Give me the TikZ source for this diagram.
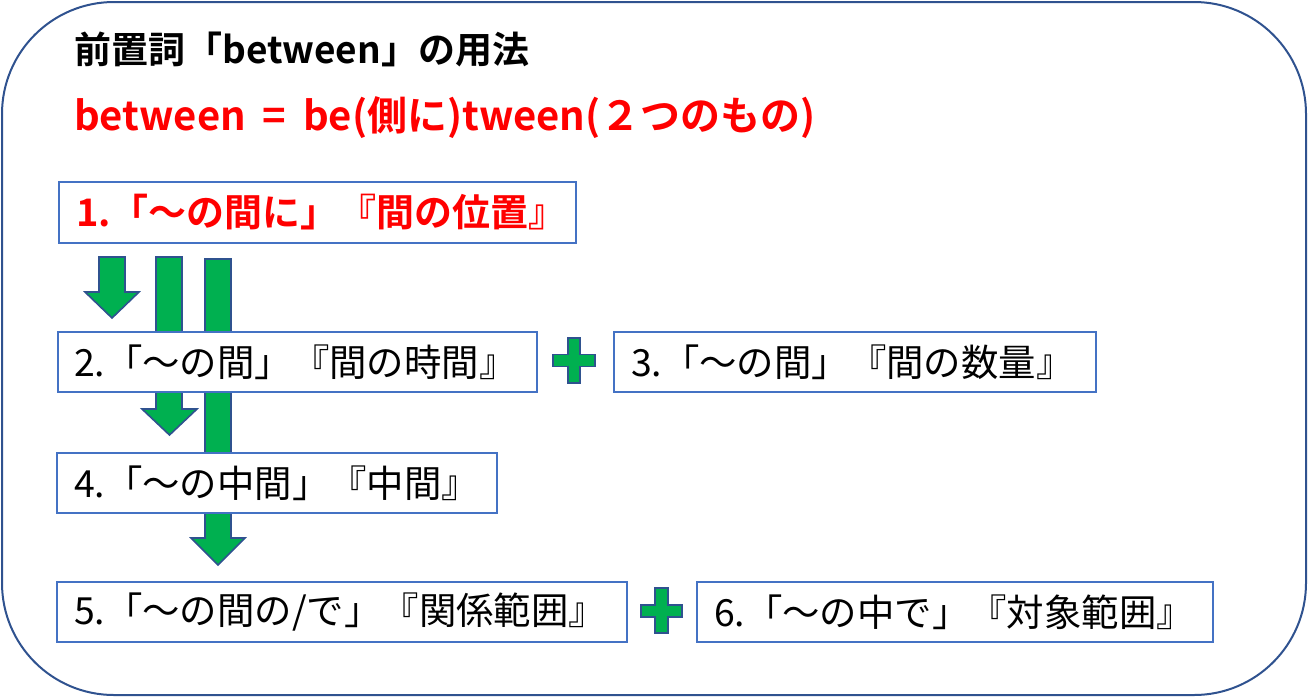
\documentclass[tikz,border=0pt]{standalone}
\usepackage{fontspec}
\setmainfont{Noto Sans CJK JP}[BoldFont={Noto Sans CJK JP Bold}]
\definecolor{boxblue}{HTML}{4472C4}
\definecolor{darkblue}{HTML}{2F528F}
\definecolor{arrgreen}{HTML}{00B050}
\definecolor{redtxt}{HTML}{FF0000}
\tikzset{
  box/.style={draw=boxblue, line width=2pt, fill=white, anchor=north west,
    inner ysep=0pt, align=left, font=\fontsize{37.4}{44}\selectfont},
  blk/.style={fill=arrgreen, draw=darkblue, line width=1.6pt, line join=miter},
}
\begin{document}
\begin{tikzpicture}[x=1pt,y=-1pt]
\useasboundingbox (0,0) rectangle (1308,697);
\node[draw=darkblue, line width=2pt, rounded corners=112pt, minimum width=1304pt,
  minimum height=693pt, inner sep=0pt] (frame) at (654,348.5) {};
\node[anchor=west, inner sep=0pt, font=\bfseries\fontsize{37}{42}\selectfont] (title)
  at (74,49) {前置詞「between」の用法};
\node[anchor=west, inner sep=0pt, text=redtxt, font=\bfseries\fontsize{40}{44}\selectfont] (ety)
  at (74,118) {between\hspace{0.42em}=\hspace{0.42em}be(側に)tween(２つのもの)};
% block arrows
\draw[blk] (99,257) -- (125,257) -- (125,292) -- (139,292) -- (112,318) -- (85,292) -- (99,292) -- cycle;
\draw[blk] (156,257) -- (182,257) -- (182,409) -- (197,409) -- (169.5,435) -- (142,409) -- (156,409) -- cycle;
\draw[blk] (205,259) -- (231,259) -- (231,538) -- (245,538) -- (218,565) -- (191,538) -- (205,538) -- cycle;
% boxes
\node[box, inner xsep=17pt, minimum height=61pt, text width=483pt, text=redtxt,
  font=\bfseries\fontsize{38}{44}\selectfont] (b1) at (58,181) {1.「〜の間に」『間の位置』};
\node[box, inner xsep=16pt, minimum height=60pt, text width=447pt] (b2) at (57,331) {2.「〜の間」『間の時間』};
\node[box, inner xsep=17pt, minimum height=60pt, text width=448pt] (b3) at (613,331) {3.「〜の間」『間の数量』};
\node[box, inner xsep=17pt, minimum height=60pt, text width=406pt] (b4) at (56,452) {4.「〜の中間」『中間』};
\node[box, inner xsep=17pt, minimum height=60pt, text width=536pt] (b5) at (56,581) {5.「〜の間の/で」『関係範囲』};
\node[box, inner xsep=17pt, minimum height=60pt, text width=482pt] (b6) at (696,581) {6.「〜の中で」『対象範囲』};
% plus signs
\draw[blk] (568,338) -- (580,338) -- (580,354.5) -- (595,354.5) -- (595,366.5) -- (580,366.5) -- (580,383) -- (568,383) -- (568,366.5) -- (553,366.5) -- (553,354.5) -- (568,354.5) -- cycle;
\draw[blk] (655,588) -- (668,588) -- (668,605) -- (682,605) -- (682,617) -- (668,617) -- (668,633) -- (655,633) -- (655,617) -- (641,617) -- (641,605) -- (655,605) -- cycle;
\end{tikzpicture}
\end{document}
